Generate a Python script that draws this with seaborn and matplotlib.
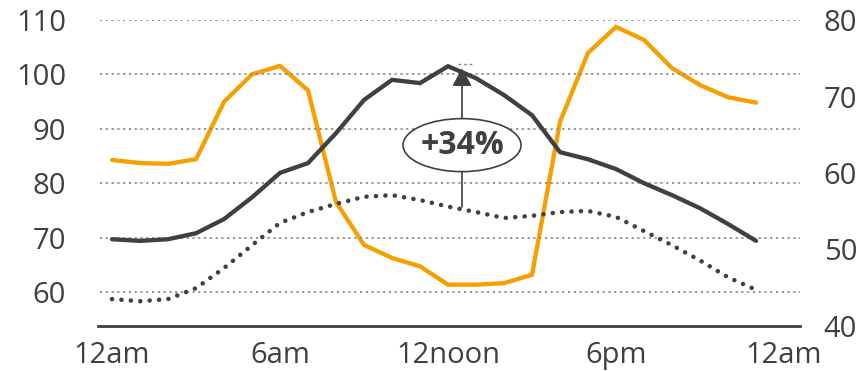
import numpy as np
import pandas as pd
import matplotlib
matplotlib.use("Agg")
import matplotlib.pyplot as plt
from matplotlib.patches import Ellipse
import seaborn as sns

# Hourly series (hour 0 = 12am ... hour 23 = 11pm)
hours = list(range(24))
solid_vals = [69.7, 69.4, 69.7, 70.8, 73.4, 77.4, 81.9, 83.7, 89.2, 95.3, 99.0, 98.4,
              101.5, 99.3, 96.2, 92.5, 85.7, 84.4, 82.6, 80.0, 77.8, 75.4, 72.5, 69.4]
dotted_vals = [58.7, 58.3, 58.7, 60.7, 64.4, 68.6, 72.7, 74.7, 76.2, 77.5, 77.8, 76.9,
               75.7, 74.7, 73.6, 74.0, 74.7, 74.9, 73.8, 71.2, 68.6, 65.8, 62.7, 60.4]
orange_vals = [61.7, 61.3, 61.2, 61.8, 69.3, 72.9, 74.0, 70.8, 56.2, 50.6, 48.9, 47.8,
               45.4, 45.4, 45.6, 46.7, 66.7, 75.7, 79.1, 77.4, 73.7, 71.5, 69.9, 69.2]

x_tick_pos = [0, 6, 12, 18, 24]
x_tick_labels = ["12am", "6am", "12noon", "6pm", "12am"]
left_ticks = [60, 70, 80, 90, 100, 110]
right_ticks = [40, 50, 60, 70, 80]

# Peak comparison shown by the arrow annotation
ann_hour = 12.5
ann_low = 75.7
ann_high = 101.5

df = pd.DataFrame({"hour": hours, "solid": solid_vals,
                   "dotted": dotted_vals, "orange": orange_vals})

sns.set_theme(style="white")
plt.rcParams["font.family"] = ["Open Sans", "DejaVu Sans"]

DARK = "#404040"
ORANGE = "#F5A000"
GRID = "#8c8c8c"

fig = plt.figure(figsize=(8.59, 3.71), dpi=100)
ax = fig.add_axes([98 / 859, 1 - 326 / 371, (800 - 98) / 859, (326 - 20) / 371])
ax2 = ax.twinx()

# Left axis: the two dark series
sns.lineplot(data=df, x="hour", y="solid", ax=ax, color=DARK, lw=3.1,
             solid_capstyle="round", solid_joinstyle="miter", zorder=3)
sns.lineplot(data=df, x="hour", y="dotted", ax=ax, color=DARK, lw=3.3,
             linestyle=(0, (0.01, 2.05)), dash_capstyle="round", zorder=3)

# Right axis: orange series
sns.lineplot(data=df, x="hour", y="orange", ax=ax2, color=ORANGE, lw=3.1,
             solid_capstyle="round", solid_joinstyle="miter", zorder=3)

ax.set_xlim(-0.5, 24.57)
ax.set_ylim(53.75, 110)
ax2.set_ylim(40, 80)

for y in left_ticks:
    ax.axhline(y, color=GRID, lw=1.3, linestyle=(0, (1.2, 2.0)), zorder=1,
               xmin=0.003, xmax=1.0)

ax.set_xticks(x_tick_pos)
ax.set_xticklabels(x_tick_labels)
ax.set_yticks(left_ticks)
ax2.set_yticks(right_ticks)

for a in (ax, ax2):
    for s in a.spines.values():
        s.set_visible(False)
    a.set_xlabel("")
    a.set_ylabel("")
    a.grid(False)
    a.tick_params(axis="both", length=0, labelsize=21, labelcolor=DARK)

ax.spines["bottom"].set_visible(True)
ax.spines["bottom"].set_color(DARK)
ax.spines["bottom"].set_linewidth(2.0)
ax.tick_params(axis="x", pad=11)
ax.tick_params(axis="y", pad=23)
ax2.tick_params(axis="y", pad=17)

# Arrow annotation between dotted and solid levels
pct = round((ann_high / ann_low - 1) * 100)
ell_y = 87.0
ell_h = 53 / 306 * (110 - 53.75)
ax.plot([ann_hour, ann_hour], [ann_low, ell_y - ell_h / 2], color=DARK, lw=1.2, zorder=4)
ax.annotate("", xy=(ann_hour, ann_high - 0.4), xytext=(ann_hour, ell_y + ell_h / 2),
            arrowprops=dict(arrowstyle="-|>,head_length=0.9,head_width=0.5",
                            color=DARK, lw=1.2, shrinkA=0, shrinkB=0), zorder=4)
ax.plot([ann_hour - 0.15, ann_hour + 0.35], [ann_high + 0.4, ann_high + 0.4],
        color=GRID, lw=1.0, linestyle=(0, (2, 2)), zorder=4)
ax.add_patch(Ellipse((ann_hour, ell_y), width=118 / 28, height=ell_h,
                     facecolor="white", edgecolor=DARK, lw=1.2, zorder=5))
ax.text(ann_hour, ell_y, f"+{pct}%", ha="center", va="center", fontsize=23,
        fontweight="bold", color=DARK, zorder=6)

ax.set_zorder(ax2.get_zorder() + 1)
ax.patch.set_visible(False)

fig.savefig("out.png", dpi=100)
